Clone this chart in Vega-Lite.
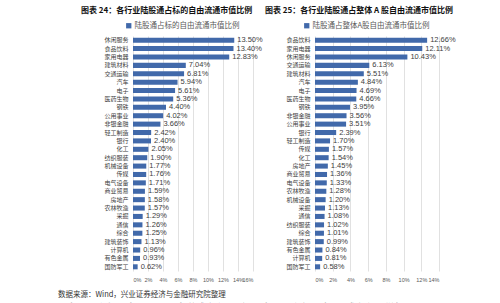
{
  "$schema": "https://vega.github.io/schema/vega-lite/v6.json",
  "background": "white",
  "padding": {"left": 58, "top": 7, "right": 5, "bottom": 0},
  "bounds": "flush",
  "spacing": 62,
  "datasets": {
    "left": [
      {"industry": "休闲服务", "value": 0.1350},
      {"industry": "食品饮料", "value": 0.1340},
      {"industry": "家用电器", "value": 0.1283},
      {"industry": "建筑材料", "value": 0.0704},
      {"industry": "交通运输", "value": 0.0681},
      {"industry": "汽车", "value": 0.0594},
      {"industry": "电子", "value": 0.0561},
      {"industry": "医药生物", "value": 0.0536},
      {"industry": "钢铁", "value": 0.0440},
      {"industry": "公用事业", "value": 0.0402},
      {"industry": "非银金融", "value": 0.0366},
      {"industry": "轻工制造", "value": 0.0242},
      {"industry": "银行", "value": 0.0240},
      {"industry": "化工", "value": 0.0205},
      {"industry": "纺织服装", "value": 0.0190},
      {"industry": "机械设备", "value": 0.0177},
      {"industry": "传媒", "value": 0.0176},
      {"industry": "电气设备", "value": 0.0171},
      {"industry": "商业贸易", "value": 0.0159},
      {"industry": "房地产", "value": 0.0158},
      {"industry": "农林牧渔", "value": 0.0157},
      {"industry": "采掘", "value": 0.0129},
      {"industry": "通信", "value": 0.0126},
      {"industry": "综合", "value": 0.0125},
      {"industry": "建筑装饰", "value": 0.0113},
      {"industry": "计算机", "value": 0.0096},
      {"industry": "有色金属", "value": 0.0093},
      {"industry": "国防军工", "value": 0.0062}
    ],
    "right": [
      {"industry": "食品饮料", "value": 0.1266},
      {"industry": "家用电器", "value": 0.1211},
      {"industry": "休闲服务", "value": 0.1043},
      {"industry": "交通运输", "value": 0.0613},
      {"industry": "建筑材料", "value": 0.0551},
      {"industry": "汽车", "value": 0.0484},
      {"industry": "电子", "value": 0.0469},
      {"industry": "医药生物", "value": 0.0466},
      {"industry": "钢铁", "value": 0.0395},
      {"industry": "非银金融", "value": 0.0356},
      {"industry": "公用事业", "value": 0.0351},
      {"industry": "银行", "value": 0.0239},
      {"industry": "轻工制造", "value": 0.0170},
      {"industry": "传媒", "value": 0.0157},
      {"industry": "化工", "value": 0.0154},
      {"industry": "房地产", "value": 0.0145},
      {"industry": "商业贸易", "value": 0.0136},
      {"industry": "电气设备", "value": 0.0133},
      {"industry": "农林牧渔", "value": 0.0128},
      {"industry": "机械设备", "value": 0.0120},
      {"industry": "采掘", "value": 0.0113},
      {"industry": "通信", "value": 0.0108},
      {"industry": "纺织服装", "value": 0.0102},
      {"industry": "综合", "value": 0.0101},
      {"industry": "建筑装饰", "value": 0.0099},
      {"industry": "有色金属", "value": 0.0084},
      {"industry": "计算机", "value": 0.0081},
      {"industry": "国防军工", "value": 0.0058}
    ]
  },
  "title": {
    "text": "数据来源：Wind，兴业证券经济与金融研究院整理",
    "subtitle": "图表 26：各行业陆股通买入占标的成交金额比例      图表 27：各行业陆股通成交金额增速",
    "orient": "bottom",
    "anchor": "start",
    "dx": -23,
    "font": "Noto Sans CJK SC",
    "fontSize": 7.5,
    "fontWeight": "normal",
    "color": "#333333",
    "subtitleFont": "Noto Sans CJK SC",
    "subtitleFontSize": 9,
    "subtitleFontWeight": "bold",
    "subtitleColor": "#111111",
    "subtitlePadding": 6,
    "offset": 8
  },
  "resolve": {"scale": {"color": "independent", "x": "independent", "y": "independent"}, "legend": {"color": "independent"}},
  "hconcat": [
    {
      "width": 120,
      "height": 235,
      "data": {"name": "left"},
      "title": {"text": "图表 24：各行业陆股通占标的自由流通市值比例", "anchor": "start", "frame": "group", "dx": -52,
                "font": "Noto Sans CJK SC", "fontSize": 8, "fontWeight": "bold", "color": "#111111", "offset": 7},
      "encoding": {
        "y": {"field": "industry", "type": "nominal", "sort": null, "title": null,
              "scale": {"paddingInner": 0.4, "paddingOuter": 0.2}},
        "x": {"field": "value", "type": "quantitative", "title": null,
              "scale": {"domain": [0, 0.16], "nice": false},
              "axis": {"values": [0, 0.02, 0.04, 0.06, 0.08, 0.1, 0.12, 0.14, 0.16], "format": ".0%"}}
      },
      "layer": [
        {
          "mark": {"type": "bar"},
          "encoding": {
            "color": {"datum": "陆股通占标的自由流通市值比例", "type": "nominal",
                      "scale": {"range": ["#4169aa"]},
                      "legend": {"orient": "none", "legendX": -8, "legendY": -14}}
          }
        },
        {
          "mark": {"type": "text", "align": "left", "baseline": "middle", "dx": 3, "font": "Liberation Sans", "fontSize": 7.5, "color": "#404040"},
          "encoding": {"text": {"field": "value", "type": "quantitative", "format": ".2%"}}
        }
      ]
    },
    {
      "width": 124,
      "height": 235,
      "data": {"name": "right"},
      "title": {"text": "图表 25：各行业陆股通占整体 A 股自由流通市值比例", "anchor": "start", "frame": "group", "dx": -50,
                "font": "Noto Sans CJK SC", "fontSize": 8, "fontWeight": "bold", "color": "#111111", "offset": 7},
      "encoding": {
        "y": {"field": "industry", "type": "nominal", "sort": null, "title": null,
              "scale": {"paddingInner": 0.4, "paddingOuter": 0.2}},
        "x": {"field": "value", "type": "quantitative", "title": null,
              "scale": {"domain": [0, 0.14], "nice": false},
              "axis": {"values": [0, 0.02, 0.04, 0.06, 0.08, 0.1, 0.12, 0.14], "format": ".0%"}}
      },
      "layer": [
        {
          "mark": {"type": "bar"},
          "encoding": {
            "color": {"datum": "陆股通占整体A股自由流通市值比例", "type": "nominal",
                      "scale": {"range": ["#4169aa"]},
                      "legend": {"orient": "none", "legendX": -12, "legendY": -14}}
          }
        },
        {
          "mark": {"type": "text", "align": "left", "baseline": "middle", "dx": 3, "font": "Liberation Sans", "fontSize": 7.5, "color": "#404040"},
          "encoding": {"text": {"field": "value", "type": "quantitative", "format": ".2%"}}
        }
      ]
    }
  ],
  "config": {
    "view": {"stroke": null},
    "font": "Noto Sans CJK SC",
    "title": {"font": "Noto Sans CJK SC", "fontSize": 8, "fontWeight": "bold", "color": "#111111", "offset": 7},
    "axisX": {"domain": false, "ticks": false, "grid": true, "gridColor": "#d9d9d9", "gridWidth": 0.8, "labelOverlap": false,
              "labelFont": "Liberation Sans", "labelFontSize": 5.5, "labelColor": "#595959", "labelPadding": 6},
    "axisY": {"domain": false, "ticks": false, "grid": false,
              "labelFont": "Noto Sans CJK SC", "labelFontSize": 6, "labelColor": "#404040", "labelPadding": 5},
    "legend": {"title": null, "symbolType": "square", "symbolSize": 28, "labelFontSize": 7.5, "labelColor": "#595959",
               "labelFont": "Noto Sans CJK SC", "symbolStrokeWidth": 0, "labelOffset": 2, "padding": 0}
  }
}
